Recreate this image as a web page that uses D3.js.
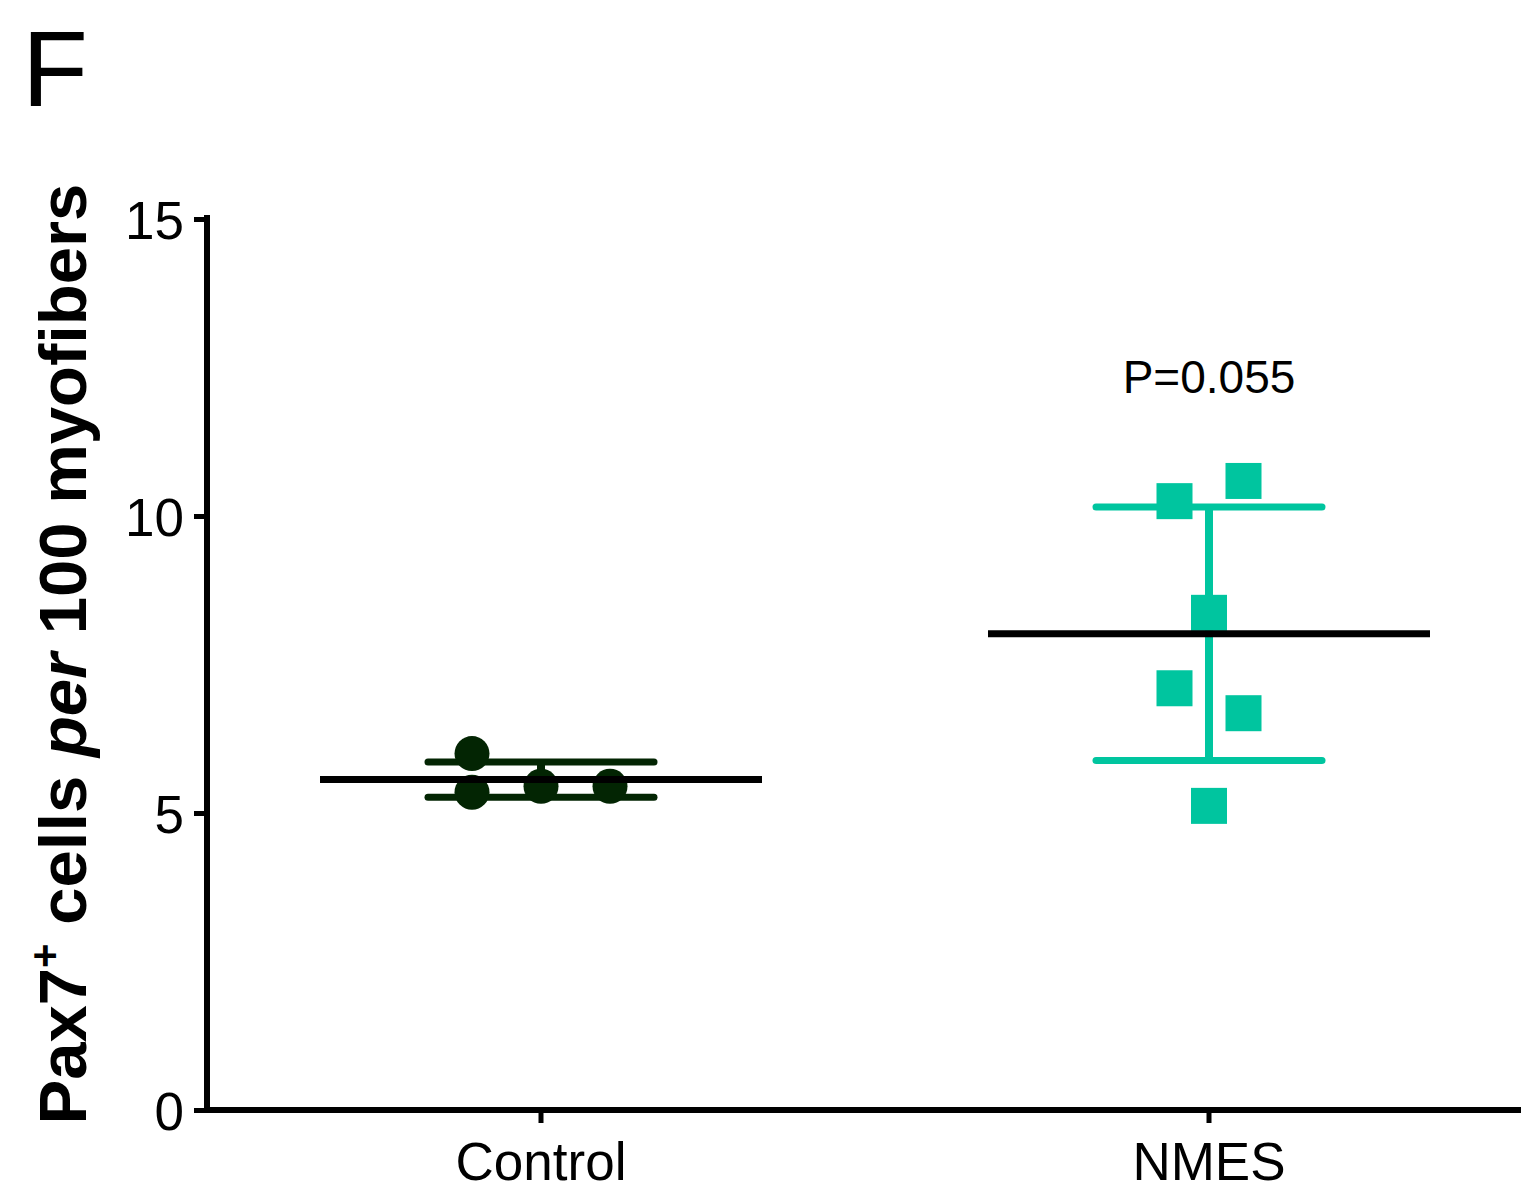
<!DOCTYPE html>
<html><head><meta charset="utf-8">
<script src="https://cdn.jsdelivr.net/npm/d3@7"></script>
<style>body{margin:0;background:#fff}svg{display:block}text{font-family:"Liberation Sans",Arial,Helvetica,sans-serif}</style>
</head><body>
<svg id="c" width="1521" height="1194"></svg>
<script>
const categories = ["Control", "NMES"];
const controlValues = [6.0, 5.35, 5.45, 5.45];
const controlSlots = [-1, -1, 0, 1];
const nmesValues = [10.25, 10.59, 8.37, 7.10, 6.68, 5.12];
const nmesSlots = [-0.5, 0.5, 0, -0.5, 0.5, 0];
const yTicks = [0, 5, 10, 15];
const pLabel = "P=0.055";

const svg = d3.select("#c");
const y = d3.scaleLinear().domain([0, 15]).range([1110, 219]);
const x = d3.scaleBand().domain(categories).range([207, 1543]);
const cx = c => x(c) + x.bandwidth() / 2;

const groups = [
  {name: "Control", vals: controlValues, slots: controlSlots, color: "#032503", shape: "circle", slotW: 69},
  {name: "NMES", vals: nmesValues, slots: nmesSlots, color: "#00c59f", shape: "square", slotW: 69}
];

// panel letter
svg.append("text").attr("x", 22).attr("y", 106).attr("font-size", 108).text("F");

// y axis
const yAxis = svg.append("g").attr("transform", "translate(207,0)")
  .call(d3.axisLeft(y).tickValues(yTicks).tickSize(13).tickSizeOuter(0).tickPadding(10));
yAxis.select(".domain").attr("stroke", "#000").attr("stroke-width", 6)
  .attr("d", `M0,${y(15)-4}V${y(0)+3}`);
yAxis.selectAll(".tick line").attr("stroke", "#000").attr("stroke-width", 5);
yAxis.selectAll(".tick text").attr("font-size", 53).attr("fill", "#000")
  .attr("font-family", '"Liberation Sans",Arial,sans-serif').attr("dy", "0.36em");

// x axis
const xAxis = svg.append("g").attr("transform", `translate(0,${y(0)})`)
  .call(d3.axisBottom(x).tickSize(13).tickSizeOuter(0));
xAxis.select(".domain").attr("stroke", "#000").attr("stroke-width", 6)
  .attr("d", `M204,0H1521`);
xAxis.selectAll(".tick line").attr("stroke", "#000").attr("stroke-width", 5);
xAxis.selectAll(".tick text").attr("font-size", 53).attr("fill", "#000")
  .attr("font-family", '"Liberation Sans",Arial,sans-serif').attr("y", 70).attr("dy", 0);

// y label
const yl = svg.append("text").attr("transform", `translate(86,654) rotate(-90)`)
  .attr("text-anchor", "middle").attr("font-size", 67).attr("font-weight", "bold");
yl.append("tspan").text("Pax7");
yl.append("tspan").attr("font-size", 42).attr("dy", -27).text("+");
yl.append("tspan").attr("dy", 27).text(" cells ");
yl.append("tspan").attr("font-style", "italic").text("per");
yl.append("tspan").text(" 100 myofibers");

const plot = svg.append("g");
groups.forEach(g => {
  const m = d3.mean(g.vals), sd = d3.deviation(g.vals);
  const c = cx(g.name);
  const capHalf = 113, meanHalf = 221;
  // whisker
  plot.append("line").attr("x1", c).attr("x2", c).attr("y1", y(m + sd)).attr("y2", y(m - sd))
    .attr("stroke", g.color).attr("stroke-width", 8);
  [m + sd, m - sd].forEach(v => plot.append("line")
    .attr("x1", c - capHalf).attr("x2", c + capHalf).attr("y1", y(v)).attr("y2", y(v))
    .attr("stroke", g.color).attr("stroke-width", 7).attr("stroke-linecap", "round"));
  // points
  g.vals.forEach((v, i) => {
    const px = c + g.slots[i] * g.slotW;
    if (g.shape === "circle") {
      plot.append("circle").attr("cx", px).attr("cy", y(v)).attr("r", 17.5).attr("fill", g.color);
    } else {
      plot.append("rect").attr("x", px - 18).attr("y", y(v) - 18).attr("width", 36).attr("height", 36).attr("fill", g.color);
    }
  });
  // mean
  plot.append("line").attr("x1", c - meanHalf).attr("x2", c + meanHalf).attr("y1", y(m)).attr("y2", y(m))
    .attr("stroke", "#000").attr("stroke-width", 7);
});

svg.append("text").attr("x", cx("NMES")).attr("y", 393).attr("text-anchor", "middle")
  .attr("font-size", 46).text(pLabel);
</script>
</body></html>
